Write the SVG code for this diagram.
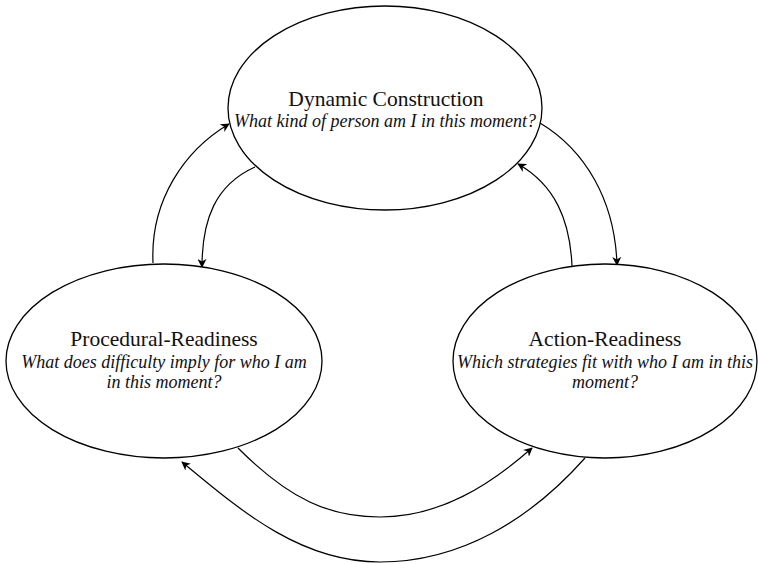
<svg xmlns="http://www.w3.org/2000/svg" width="758" height="564" viewBox="0 0 758 564">
<defs>
<style>
.node ellipse{fill:#fff;stroke:#000;stroke-width:1.3}
.t{font-family:"Liberation Serif","Times New Roman",serif;font-size:21.5px;fill:#111;text-anchor:middle}
.q{font-family:"Liberation Serif","Times New Roman",serif;font-size:18px;font-style:italic;fill:#111;text-anchor:middle}
.conn path{fill:none;stroke:#000;stroke-width:1.2;marker-end:url(#ah)}
</style>
<marker id="ah" viewBox="0 0 10 10" refX="9" refY="5" markerWidth="9" markerHeight="9" markerUnits="userSpaceOnUse" orient="auto">
<path d="M0,0 L10,5 L0,10 L3,5 z" fill="#000"/>
</marker>
</defs>
<rect width="758" height="564" fill="#fff"/>
<g id="connectors" class="conn">
<path d="M153,263 C150,200 185,150 229,124"/>
<path d="M255,167 C215,185 202,220 202,267"/>
<path d="M540,123 C585,150 615,200 617,265"/>
<path d="M572,266 C570,220 555,185 518,164"/>
<path d="M238,448 C290,500 330,517 380,517 C440,517 490,485 532,448"/>
<path d="M585,458 C530,520 460,562 380,562 C300,562 240,510 182,462"/>
</g>
<g id="dynamic-construction" class="node">
<ellipse cx="385" cy="108" rx="157" ry="102"/>
<text class="t" x="386" y="106">Dynamic Construction</text>
<text class="q" x="385" y="127">What kind of person am I in this moment?</text>
</g>
<g id="procedural-readiness" class="node">
<ellipse cx="164" cy="361" rx="158" ry="97"/>
<text class="t" x="164" y="346">Procedural-Readiness</text>
<text class="q" x="164" y="368">What does difficulty imply for who I am</text>
<text class="q" x="164" y="388">in this moment?</text>
</g>
<g id="action-readiness" class="node">
<ellipse cx="605" cy="361" rx="152" ry="97"/>
<text class="t" x="605" y="346">Action-Readiness</text>
<text class="q" x="605" y="368">Which strategies fit with who I am in this</text>
<text class="q" x="605" y="388">moment?</text>
</g>
</svg>
